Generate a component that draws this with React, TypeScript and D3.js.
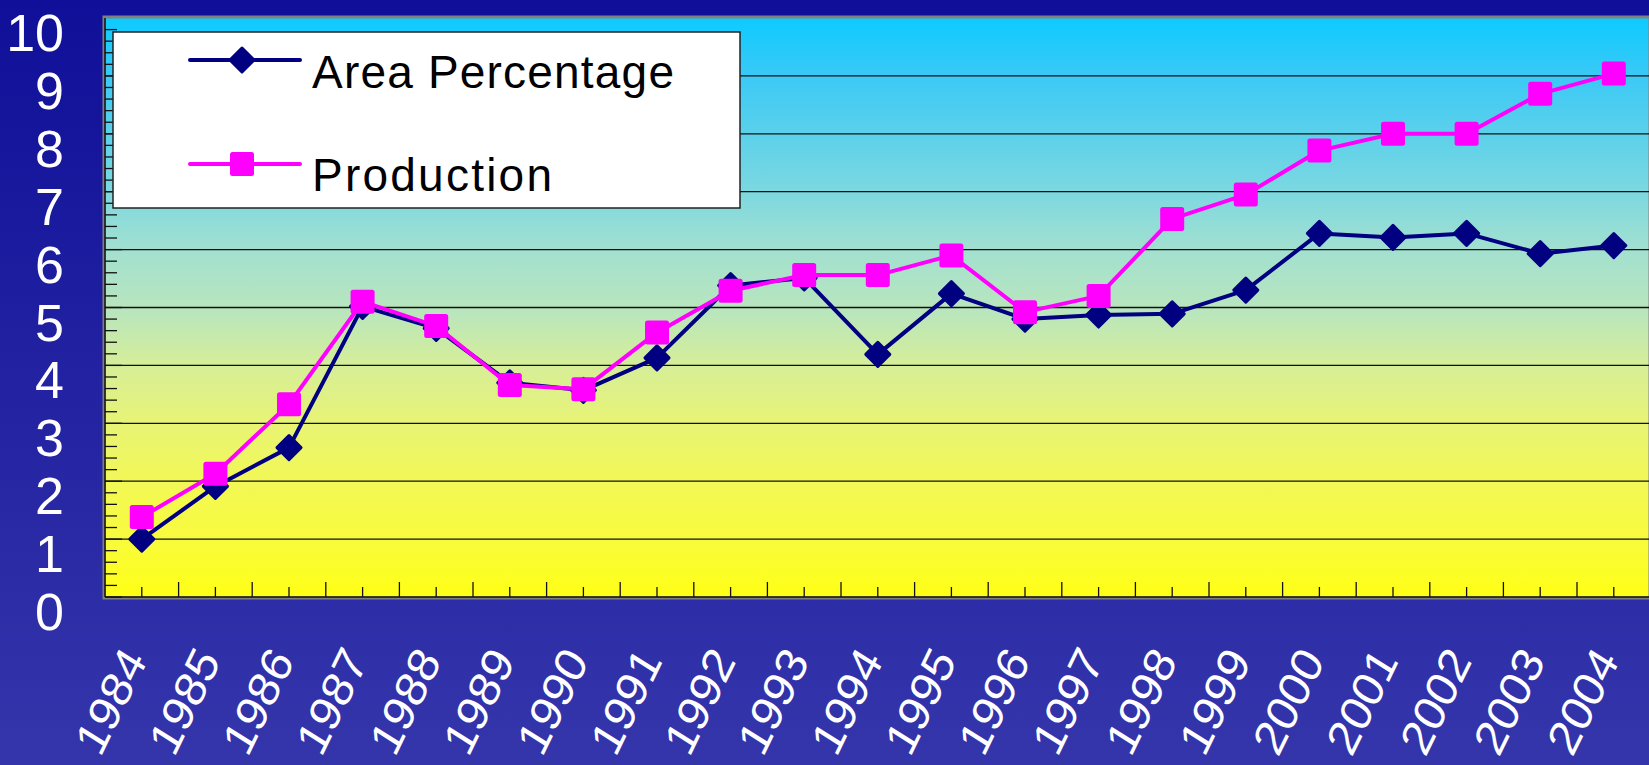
import React, { useRef, useEffect } from 'react';
import * as d3 from 'd3';

const years = ["1984", "1985", "1986", "1987", "1988", "1989", "1990", "1991", "1992", "1993", "1994",
  "1995", "1996", "1997", "1998", "1999", "2000", "2001", "2002", "2003", "2004"];
const areaPercentage = [1.0, 1.91, 2.58, 5.02, 4.64, 3.7, 3.57, 4.13, 5.38, 5.51, 4.19,
  5.24, 4.8, 4.87, 4.89, 5.3, 6.28, 6.21, 6.28, 5.93, 6.07];
const production = [1.38, 2.13, 3.33, 5.1, 4.68, 3.66, 3.59, 4.57, 5.29, 5.56, 5.56,
  5.9, 4.92, 5.2, 6.53, 6.95, 7.71, 8.0, 8.0, 8.69, 9.04];
const yTicks = [0, 1, 2, 3, 4, 5, 6, 7, 8, 9, 10];
const seriesNames = ["Area Percentage", "Production"];

const App: React.FC = () => {
  const svgRef = useRef<SVGSVGElement | null>(null);

  useEffect(() => {
    const svg = d3.select(svgRef.current);
    svg.selectAll("*").remove();

    const width = 1649;
    const height = 765;
    const left = 105;
    const top = 18;
    const bottom = 597;
    const step = 73.6;
    const right = left + step * years.length;

    const defs = svg.append("defs");
    const bg = defs.append("linearGradient").attr("id", "bg").attr("x1", 0).attr("y1", 0).attr("x2", 0).attr("y2", 1);
    bg.append("stop").attr("offset", "0%").attr("stop-color", "#0f0f99");
    bg.append("stop").attr("offset", "100%").attr("stop-color", "#3535ab");

    const pg = defs.append("linearGradient").attr("id", "plotbg").attr("x1", 0).attr("y1", 0).attr("x2", 0).attr("y2", 1);
    [
      [0, "#0ccbff"], [0.1, "#3ac9f6"], [0.3, "#7cd8e0"], [0.4, "#a2e0d0"], [0.51, "#bae6bc"],
      [0.6, "#d6ee98"], [0.7, "#e8f474"], [0.8, "#f2f856"], [0.9, "#f8fb3c"], [1, "#ffff14"]
    ].forEach(([o, c]) => pg.append("stop").attr("offset", o as number).attr("stop-color", c as string));

    svg.attr("width", width).attr("height", height);
    svg.append("rect").attr("width", width).attr("height", height).attr("fill", "url(#bg)");

    const x = d3.scaleBand().domain(years).range([left, right]).padding(0);
    const cx = (d: string) => x(d)! + x.bandwidth() / 2;
    const y = d3.scaleLinear().domain([0, 10]).range([bottom, top]);

    // plot area
    svg.append("rect")
      .attr("x", left - 1).attr("y", top - 1)
      .attr("width", width - left + 2).attr("height", bottom - top + 2)
      .attr("fill", "url(#plotbg)")
      .attr("stroke", "#808080").attr("stroke-width", 3);

    // gridlines
    svg.append("g")
      .selectAll("line")
      .data(yTicks.filter(t => t > 0 && t < 10))
      .join("line")
      .attr("x1", left).attr("x2", width)
      .attr("y1", d => y(d)).attr("y2", d => y(d))
      .attr("stroke", "#111").attr("stroke-width", 1.3);

    // y minor ticks
    const minor = d3.range(0, 50).map(i => i * 0.2);
    svg.append("g")
      .selectAll("line")
      .data(minor)
      .join("line")
      .attr("x1", left).attr("x2", d => (Math.abs(d - Math.round(d)) < 1e-6 ? left + 17 : left + 12))
      .attr("y1", d => y(d)).attr("y2", d => y(d))
      .attr("stroke", "#111").attr("stroke-width", 1.3);

    // x ticks: short at centres, tall at boundaries
    svg.append("g")
      .selectAll("line")
      .data(years)
      .join("line")
      .attr("x1", d => cx(d)).attr("x2", d => cx(d))
      .attr("y1", bottom).attr("y2", bottom - 10)
      .attr("stroke", "#111").attr("stroke-width", 1.3);
    svg.append("g")
      .selectAll("line")
      .data(years.slice(1))
      .join("line")
      .attr("x1", d => x(d)!).attr("x2", d => x(d)!)
      .attr("y1", bottom).attr("y2", bottom - 15)
      .attr("stroke", "#111").attr("stroke-width", 1.3);

    // axis lines
    svg.append("line").attr("x1", left).attr("x2", left).attr("y1", top).attr("y2", bottom)
      .attr("stroke", "#111").attr("stroke-width", 1.5);
    svg.append("line").attr("x1", left).attr("x2", width).attr("y1", bottom).attr("y2", bottom)
      .attr("stroke", "#111").attr("stroke-width", 1.5);

    // y labels
    svg.append("g")
      .selectAll("text")
      .data(yTicks)
      .join("text")
      .attr("x", 64)
      .attr("y", d => y(d) + 33)
      .attr("text-anchor", "end")
      .attr("fill", "#fff")
      .attr("font-family", "'Liberation Sans', Arial, sans-serif")
      .attr("font-size", 52)
      .text(d => d);

    // x labels (slightly condensed, steep rotation)
    svg.append("g")
      .selectAll("text")
      .data(years)
      .join("text")
      .attr("transform", d => `translate(${cx(d) + 6},${661}) scale(0.88,1) rotate(-61)`)
      .attr("text-anchor", "end")
      .attr("fill", "#fff")
      .attr("font-family", "'Liberation Sans', Arial, sans-serif")
      .attr("font-size", 50)
      .text(d => d);

    const line = d3.line<number>()
      .x((_, i) => cx(years[i]))
      .y(d => y(d));

    const diamond = (g: d3.Selection<SVGGElement, unknown, null, undefined>, px: number, py: number) => {
      g.append("rect")
        .attr("x", -10).attr("y", -10).attr("width", 20).attr("height", 20).attr("rx", 1.5)
        .attr("transform", `translate(${px},${py}) rotate(45)`)
        .attr("fill", "#000080");
    };
    const square = (g: d3.Selection<SVGGElement, unknown, null, undefined>, px: number, py: number) => {
      g.append("rect")
        .attr("x", px - 12).attr("y", py - 12).attr("width", 24).attr("height", 24).attr("rx", 2.5)
        .attr("fill", "#ff00ff");
    };

    // Area series
    const ga = svg.append("g");
    ga.append("path").attr("d", line(areaPercentage)!).attr("fill", "none")
      .attr("stroke", "#000080").attr("stroke-width", 4).attr("stroke-linejoin", "round");
    areaPercentage.forEach((v, i) => diamond(ga, cx(years[i]), y(v)));

    // Production series
    const gp = svg.append("g");
    gp.append("path").attr("d", line(production)!).attr("fill", "none")
      .attr("stroke", "#ff00ff").attr("stroke-width", 4).attr("stroke-linejoin", "round");
    production.forEach((v, i) => square(gp, cx(years[i]), y(v)));

    // Legend
    const lg = svg.append("g");
    lg.append("rect").attr("x", 113).attr("y", 32).attr("width", 627).attr("height", 176)
      .attr("fill", "#fff").attr("stroke", "#222").attr("stroke-width", 1.5);
    const legendRows = [
      { name: seriesNames[0], color: "#000080", ly: 60, ty: 88, marker: diamond, len: 362 },
      { name: seriesNames[1], color: "#ff00ff", ly: 164, ty: 191, marker: square, len: 240 }
    ];
    legendRows.forEach(r => {
      lg.append("line").attr("x1", 190).attr("x2", 300).attr("y1", r.ly).attr("y2", r.ly)
        .attr("stroke", r.color).attr("stroke-width", 4).attr("stroke-linecap", "round");
      r.marker(lg, 242, r.ly);
      lg.append("text")
        .attr("x", 312).attr("y", r.ty)
        .attr("font-family", "'Liberation Sans', Arial, sans-serif")
        .attr("font-size", 46)
        .attr("fill", "#000")
        .attr("textLength", r.len)
        .attr("lengthAdjust", "spacing")
        .text(r.name);
    });
  }, []);

  return (
    <svg ref={svgRef} style={{ position: 'absolute', left: 0, top: 0, display: 'block' }}></svg>
  );
};

export default App;
